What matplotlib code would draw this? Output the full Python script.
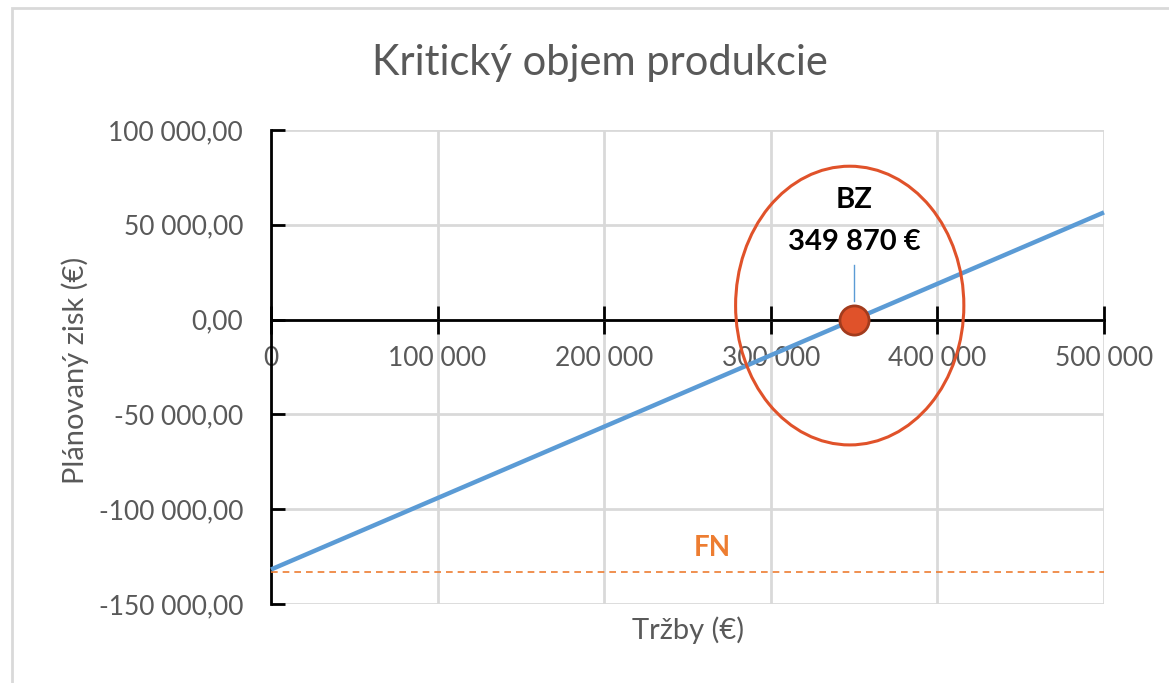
import matplotlib.pyplot as plt
from matplotlib.patches import Ellipse, Rectangle
from matplotlib.ticker import FuncFormatter

plt.rcParams['font.family'] = ['Lato', 'DejaVu Sans']

# data
trzby = [0, 500000]
zisk = [-131800, 56550]
fixne_naklady = -133000
bz = 349870
x_ticks = [0, 100000, 200000, 300000, 400000, 500000]
y_ticks = [-150000, -100000, -50000, 0, 50000, 100000]

blue = '#5B9BD5'
orange = '#ED7D31'
red = '#E0522A'
gray_text = '#595959'
grid = '#D9D9D9'

fig = plt.figure(figsize=(11.69, 6.83), dpi=100)
ax = fig.add_axes([271/1169, 1-604/683, 833/1169, 474/683])

# outer chart frame (only left/top visible in crop)
fig.patches.append(Rectangle((12/1169, -0.1), 1.2, 1.1 - 8/683, transform=fig.transFigure,
                             fill=False, edgecolor='#D9D9D9', linewidth=2))

ax.set_xlim(0, 500000)
ax.set_ylim(-150000, 100000)
ax.set_xticks(x_ticks)
ax.set_yticks(y_ticks)
ax.grid(True, color=grid, linewidth=2)
ax.set_axisbelow(True)

def fmt_x(v, pos):
    return f'{int(v):,}'.replace(',', ' ')

def fmt_y(v, pos):
    s = f'{abs(v):,.2f}'.replace(',', ' ').replace('.', ',')
    return ('-' if v < 0 else '') + s

ax.xaxis.set_major_formatter(FuncFormatter(fmt_x))
ax.yaxis.set_major_formatter(FuncFormatter(fmt_y))

for s in ['top', 'right']:
    ax.spines[s].set_visible(False)
ax.spines['bottom'].set_position(('data', 0))
ax.spines['bottom'].set_linewidth(2)
ax.spines['left'].set_linewidth(2)
ax.tick_params(axis='x', direction='inout', length=20, width=2, pad=9,
               labelsize=19, labelcolor=gray_text)
ax.tick_params(axis='y', direction='in', length=10, width=2, pad=20,
               labelsize=19, labelcolor=gray_text)

# FN dashed line
ax.axhline(fixne_naklady, color=orange, linestyle=(0, (4, 3)), linewidth=1.2, zorder=3)
ax.text(265000, fixne_naklady + 12500, 'FN', color=orange, fontsize=20,
        fontweight='bold', ha='center', va='center')

# profit line
ax.plot(trzby, zisk, color=blue, linewidth=3.2, solid_capstyle='butt', zorder=4, clip_on=False)

# break-even point
ax.plot([bz, bz], [10000, 29000], color=blue, linewidth=1, zorder=4)
ax.plot([bz], [0], 'o', markersize=21, markerfacecolor=red, markeredgecolor='#A23B1D',
        markeredgewidth=2, zorder=6, clip_on=False)
ax.text(bz, 63000, 'BZ', fontsize=21, fontweight='bold', ha='center', va='center', color='black')
ax.text(bz, 41000, f'{bz:,}'.replace(',', ' ') + ' €', fontsize=21, fontweight='bold',
        ha='center', va='center', color='black')
ax.add_patch(Ellipse((bz - 2500, 7400), 137000, 147000, fill=False, edgecolor=red,
                     linewidth=2.2, zorder=5, clip_on=False))

fig.text(600/1169, 1-63/683, 'Kritický objem produkcie', ha='center', va='center',
         fontsize=30, color=gray_text)
fig.text(688/1169, 1-630/683, 'Tržby (€)', ha='center', va='center', fontsize=21, color=gray_text)
fig.text(75/1169, 1-370/683, 'Plánovaný zisk (€)', ha='center', va='center', rotation=90,
         fontsize=21, color=gray_text)

fig.savefig('out.png', dpi=100)
